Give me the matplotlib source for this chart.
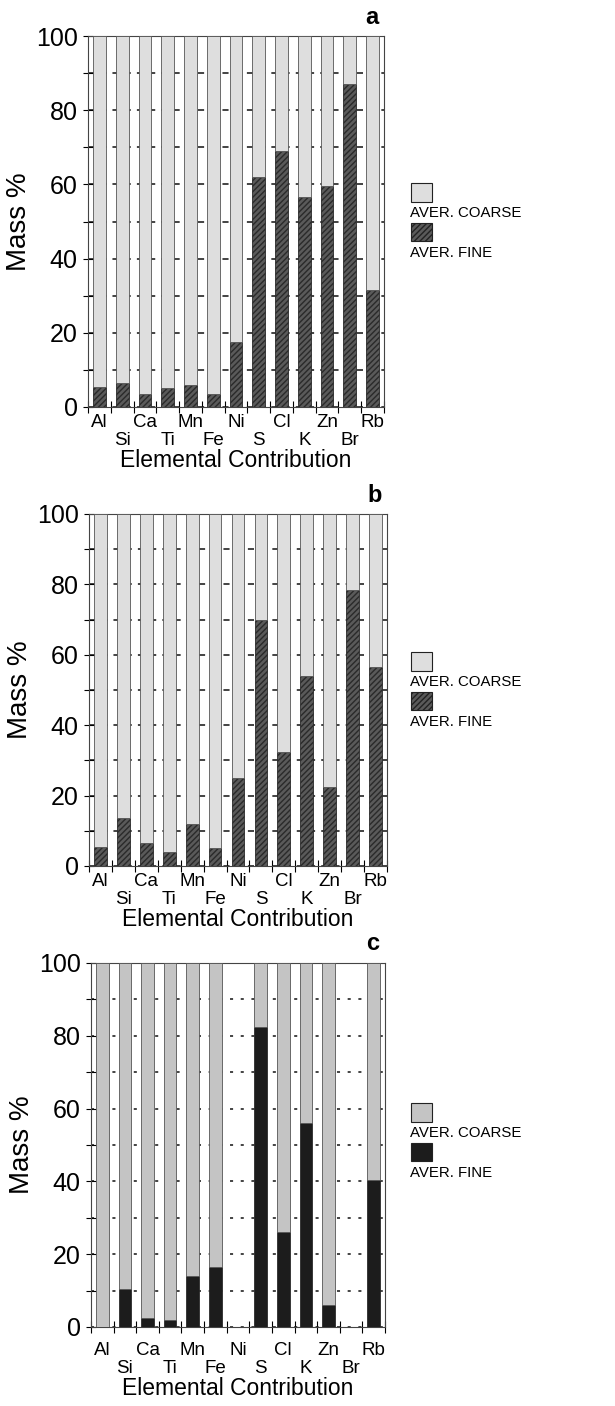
import numpy as np
import matplotlib
matplotlib.use("Agg")
import matplotlib.pyplot as plt
from matplotlib.patches import Rectangle

plt.rcParams['font.family'] = ['Liberation Sans', 'DejaVu Sans']

elements = ['Al', 'Si', 'Ca', 'Ti', 'Mn', 'Fe', 'Ni', 'S', 'Cl', 'K', 'Zn', 'Br', 'Rb']

# fine fraction (mass %) per panel; coarse = rest up to 100
fine_a = [5.5, 6.5, 3.5, 5.0, 6.0, 3.5, 17.5, 62.0, 69.0, 56.5, 59.5, 87.0, 31.5]
fine_b = [5.5, 13.5, 6.5, 4.0, 12.0, 5.0, 25.0, 70.0, 32.5, 54.0, 22.5, 78.5, 56.5]
fine_c = [0.0, 10.5, 2.5, 2.0, 14.0, 16.5, 0.0, 82.5, 26.0, 56.0, 6.0, 0.0, 40.5]
# panel c has no data for Ni and Br
present_c = [1, 1, 1, 1, 1, 1, 0, 1, 1, 1, 1, 0, 1]

panels = [
    dict(letter='a', fine=fine_a, present=[1] * 13,
         rect=(88, 36, 384, 407), leg_y=183, pad=5,
         coarse_col='#dedede', fine_col='#5a5a5a', hatch='//////', grid_ls=(0, (4, 4))),
    dict(letter='b', fine=fine_b, present=[1] * 13,
         rect=(89, 514, 387, 866), leg_y=652, pad=5,
         coarse_col='#dedede', fine_col='#5a5a5a', hatch='//////', grid_ls=(0, (4, 4))),
    dict(letter='c', fine=fine_c, present=present_c,
         rect=(91, 963, 385, 1327), leg_y=1103, pad=11,
         coarse_col='#c4c4c4', fine_col='#1c1c1c', hatch=None, grid_ls=(0, (2, 5))),
]

W, H = 615, 1406
fig = plt.figure(figsize=(W / 100, H / 100), dpi=100)

x = np.arange(len(elements))
for p in panels:
    l, t, r, b = p['rect']
    ax = fig.add_axes([l / W, 1 - b / H, (r - l) / W, (b - t) / H])
    fine = np.array(p['fine'])
    pres = np.array(p['present'])
    coarse = np.where(pres == 1, 100 - fine, 0)

    ax.bar(x, fine, width=0.56, color=p['fine_col'], hatch=p['hatch'],
           edgecolor='#2a2a2a', linewidth=0.6, zorder=3)
    ax.bar(x, coarse, bottom=fine, width=0.56, color=p['coarse_col'],
           edgecolor='#555555', linewidth=0.6, zorder=3)

    ax.set_xlim(-0.5, len(elements) - 0.5)
    ax.set_ylim(0, 100)
    ax.set_yticks(np.arange(0, 101, 20))
    ax.set_yticks(np.arange(10, 100, 20), minor=True)
    ax.yaxis.grid(True, which='both', color='#111111', linestyle=p['grid_ls'],
                  linewidth=1.1, zorder=0)
    ax.set_axisbelow(True)

    ax.set_xticks(x)
    ax.set_xticklabels([e if i % 2 == 0 else '\n' + e for i, e in enumerate(elements)],
                       fontsize=13.5, linespacing=1.05)
    ax.set_xticks(np.arange(-0.5, len(elements), 1.0), minor=True)
    ax.tick_params(axis='x', which='major', length=0, pad=p['pad'])
    ax.tick_params(axis='x', which='minor', direction='inout', length=8, width=0.8)
    ax.tick_params(axis='y', which='both', direction='inout', length=7, width=0.8,
                   labelsize=18, pad=4)

    for s in ax.spines.values():
        s.set_color('#444444')
        s.set_linewidth(0.8)

    ax.set_ylabel('Mass %', fontsize=20)
    ax.yaxis.set_label_coords(-56 / (r - l), 0.5)
    ax.set_xlabel('Elemental Contribution', fontsize=16.5, labelpad=0)

    fig.text((r - 12) / W, 1 - (t - 19) / H, p['letter'], fontsize=17,
             fontweight='bold', ha='center', va='center')

    # hand-made legend: box above each label
    ly = p['leg_y']
    fig.patches.append(Rectangle((411 / W, 1 - (ly + 19) / H), 21 / W, 19 / H,
                                 transform=fig.transFigure, facecolor=p['coarse_col'],
                                 edgecolor='#222222', linewidth=0.8))
    fig.text(410 / W, 1 - (ly + 30) / H, 'AVER. COARSE', fontsize=10.8,
             ha='left', va='center')
    fig.patches.append(Rectangle((411 / W, 1 - (ly + 58) / H), 21 / W, 18 / H,
                                 transform=fig.transFigure, facecolor=p['fine_col'],
                                 hatch=p['hatch'], edgecolor='#222222', linewidth=0.8))
    fig.text(410 / W, 1 - (ly + 70) / H, 'AVER. FINE', fontsize=10.8,
             ha='left', va='center')

fig.savefig('out.png', dpi=100)
